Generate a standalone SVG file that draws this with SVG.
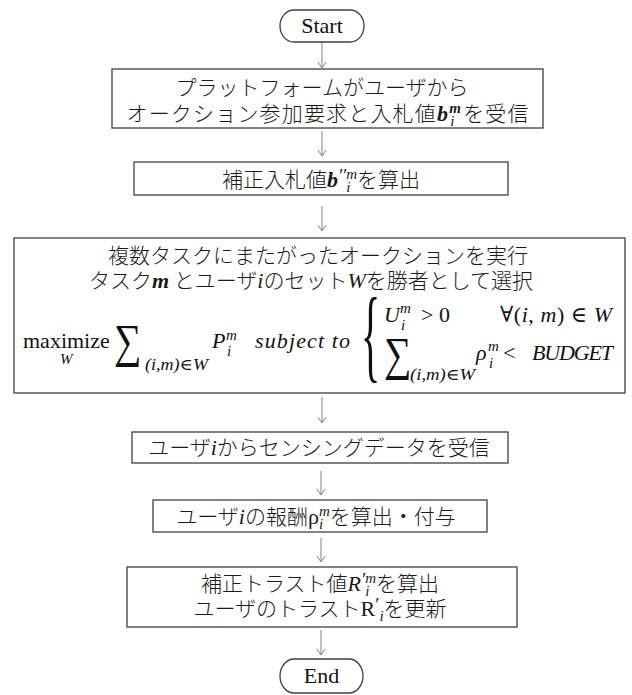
<svg xmlns="http://www.w3.org/2000/svg" width="632" height="695" viewBox="0 0 632 695">
<defs>
<marker id="ah" viewBox="-1 -5 8 10" refX="6" refY="0" markerWidth="8" markerHeight="10" markerUnits="userSpaceOnUse" orient="auto">
<path d="M0,-4 L6,0 L0,4" fill="none" stroke="#808080" stroke-width="1"/>
</marker>
<style>
.box{fill:#fff;stroke:#404040;stroke-width:1.3}
.conn{stroke:#808080;stroke-width:1;fill:none;marker-end:url(#ah)}
.jp{font-family:"Noto Sans CJK JP",sans-serif;font-size:21px;font-weight:300;fill:#1a1a1a}
.rm{font-family:"Liberation Serif","DejaVu Serif",serif;font-size:22px;fill:#111}
.it{font-family:"Liberation Serif","DejaVu Serif",serif;font-style:italic;font-size:22px;font-weight:normal}
.bi{font-family:"Liberation Serif",serif;font-style:italic;font-weight:bold;font-size:22px}
.up{font-family:"Liberation Serif",serif;font-style:normal;font-weight:normal;font-size:22px}
.s{font-size:15px}
.pr{font-size:19px}
.mt{font-family:"Liberation Serif","DejaVu Serif",serif;font-style:italic;fill:#111}
.big{font-family:"Liberation Serif","DejaVu Serif",serif;fill:#111}
</style>
</defs>

<g id="connectors">
<line class="conn" x1="322" y1="42" x2="322" y2="68"/>
<line class="conn" x1="322" y1="131" x2="322" y2="156"/>
<line class="conn" x1="322" y1="206" x2="322" y2="231"/>
<line class="conn" x1="322" y1="397" x2="322" y2="423"/>
<line class="conn" x1="321" y1="471" x2="321" y2="495"/>
<line class="conn" x1="321" y1="538" x2="321" y2="562"/>
<line class="conn" x1="321" y1="630" x2="321" y2="655"/>
</g>

<g id="start">
<rect class="box" x="280" y="10" width="84" height="32" rx="14" ry="16"/>
<text class="rm" x="322" y="33" text-anchor="middle" font-size="23">Start</text>
</g>

<g id="receive-bid">
<rect class="box" x="112" y="69" width="431" height="59"/>
<text class="jp" x="322" y="95" text-anchor="middle">プラットフォームがユーザから</text>
<text class="jp" x="327.5" y="121" text-anchor="middle" textLength="402">オークション参加要求と入札値<tspan class="bi">b</tspan><tspan class="bi s" dy="-8">m</tspan><tspan class="it s" dx="-11.7" dy="13">i</tspan><tspan dx="7.5" dy="-5">を受信</tspan></text>
</g>

<g id="corrected-bid">
<rect class="box" x="134" y="162" width="374" height="33"/>
<text class="jp" x="321" y="187" text-anchor="middle">補正入札値<tspan class="bi">b</tspan><tspan class="it pr" dy="-5">′′</tspan><tspan class="it s" dy="-3">m</tspan><tspan class="it s" dx="-10.8" dy="13">i</tspan><tspan dx="6.6" dy="-5">を算出</tspan></text>
</g>

<g id="auction">
<rect class="box" x="14" y="238" width="611" height="155"/>
<text class="jp" x="318" y="263" text-anchor="middle">複数タスクにまたがったオークションを実行</text>
<text class="jp" x="311" y="288" text-anchor="middle">タスク<tspan class="bi">m</tspan> とユーザ<tspan class="it">i</tspan>のセット<tspan class="it">W</tspan>を勝者として選択</text>
<text class="rm" x="23" y="348">maximize</text>
<text class="mt" x="60" y="364" font-size="15">W</text>
<text class="big" transform="translate(114,357) scale(0.82,1)" font-size="47">∑</text>
<text class="mt" x="145" y="370" font-size="16" textLength="63" lengthAdjust="spacingAndGlyphs">(i,m)∈W</text>
<text class="mt" x="212" y="348" font-size="22">P</text>
<text class="mt" x="226" y="340" font-size="15">m</text>
<text class="mt" x="227" y="356" font-size="15">i</text>
<text class="mt" x="255" y="348" font-size="22" textLength="95">subject to</text>
<text class="big" transform="translate(361,0) scale(1,2.6)" x="0" y="142" font-size="40">{</text>
<text class="mt" x="384" y="322" font-size="22">U</text>
<text class="mt" x="400" y="313" font-size="15">m</text>
<text class="mt" x="401" y="330" font-size="15">i</text>
<text class="rm" x="421" y="322">&gt; 0</text>
<text class="rm" x="500" y="322" textLength="112">∀(<tspan class="it">i</tspan>, <tspan class="it">m</tspan>) ∈ <tspan class="it">W</tspan></text>
<text class="big" transform="translate(384,370) scale(0.82,1)" font-size="47">∑</text>
<text class="mt" x="410" y="380" font-size="16" textLength="65" lengthAdjust="spacingAndGlyphs">(i,m)∈W</text>
<text class="mt" x="476" y="360" font-size="22">ρ</text>
<text class="mt" x="488" y="351" font-size="15">m</text>
<text class="mt" x="489" y="368" font-size="15">i</text>
<text class="rm" x="503" y="360">&lt;</text>
<text class="mt" x="532" y="360" font-size="22" textLength="81">BUDGET</text>
</g>

<g id="receive-data">
<rect class="box" x="132" y="432" width="376" height="31"/>
<text class="jp" x="319" y="455" text-anchor="middle">ユーザ<tspan class="it">i</tspan>からセンシングデータを受信</text>
</g>

<g id="reward">
<rect class="box" x="153" y="500" width="334" height="32"/>
<text class="jp" x="316" y="524" text-anchor="middle">ユーザ<tspan class="it">i</tspan>の報酬<tspan class="up">ρ</tspan><tspan class="it s" dy="-8">m</tspan><tspan class="it s" dx="-10.8" dy="13">i</tspan><tspan dx="6.6" dy="-5">を算出・付与</tspan></text>
</g>

<g id="trust">
<rect class="box" x="127" y="567" width="390" height="60"/>
<text class="jp" x="320" y="591" text-anchor="middle">補正トラスト値<tspan class="it">R</tspan><tspan class="it pr" dy="-5">′</tspan><tspan class="it s" dy="-3">m</tspan><tspan class="it s" dx="-10.8" dy="13">i</tspan><tspan dx="6.6" dy="-5">を算出</tspan></text>
<text class="jp" x="320" y="616" text-anchor="middle">ユーザのトラスト<tspan class="up">R</tspan><tspan class="up pr" dy="-5">′</tspan><tspan class="it s" dy="10">i</tspan><tspan dy="-5">を更新</tspan></text>
</g>

<g id="end">
<rect class="box" x="280" y="659" width="83" height="34" rx="14" ry="17"/>
<text class="rm" x="321.5" y="683" text-anchor="middle" font-size="23">End</text>
</g>
</svg>
